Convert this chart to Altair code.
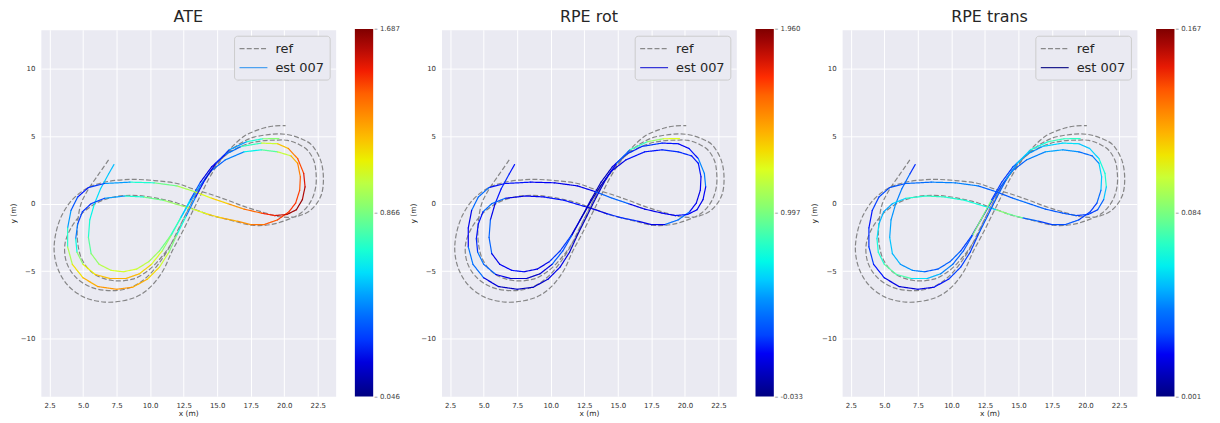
import altair as alt
import pandas as pd

# ---------------- data ----------------
PANEL_TITLES = ["ATE", "RPE rot", "RPE trans"]
CBAR_MIN = [0.046, -0.033, 0.001]
CBAR_MAX = [1.687, 1.960, 0.167]
CBAR_LABELS = [["0.046", "0.866", "1.687"],
               ["-0.033", "0.997", "1.960"],
               ["0.001", "0.084", "0.167"]]
EST_LEGEND_COLOR = ["#3d9bf0", "#2323d6", "#0c0c86"]
SERIES = ["ref", "est 007"]
X_TICKS = [2.5, 5.0, 7.5, 10.0, 12.5, 15.0, 17.5, 20.0, 22.5]
Y_TICKS = [-10, -5, 0, 5, 10]

REF_X = [6.9, 6.1, 5.35, 4.85, 4.6, 4.6, 4.95, 5.8, 7.2, 8.7, 9.8, 10.9, 11.8, 12.5, 13.2, 13.95,
         14.8, 15.9, 17.3, 18.3, 19.3, 20.25, 21.1, 21.75, 22.2, 22.35, 22.35, 21.98, 21.24, 20.25,
         19.0, 17.6, 16.0, 14.5, 13.0, 12.0, 11.0, 10.0, 8.7, 7.3, 6.0, 4.9,
         4.1, 3.65, 3.75, 4.4, 5.6, 7.2, 8.6, 9.7, 10.6, 11.4, 12.1, 12.8, 13.55, 14.4, 15.4, 16.6,
         17.6, 18.6, 19.6, 20.4, 21.3, 22.0, 22.7, 22.92, 22.72, 22.0, 21.0, 19.75, 18.3, 17.0,
         15.8, 14.5, 13.2, 12.0, 10.3, 8.5, 6.6, 5.3, 4.2,
         3.4, 2.95, 2.85, 3.15, 3.9, 5.1, 6.6, 8.0, 9.2, 10.2, 11.0, 11.6, 12.35, 13.05, 13.7,
         14.35, 15.1, 16.0, 17.0, 18.1, 19.1, 20.1]
REF_Y = [3.25, 2.1, 1.0, 0.0, -1.4, -2.9, -4.2, -5.2, -5.7, -5.6, -5.0, -3.9, -2.6, -1.1, 0.3, 1.6,
         2.8, 3.8, 4.45, 4.66, 4.72, 4.7, 4.4, 3.95, 3.2, 2.5, 1.27, 0.17, -0.69, -1.18,
         -1.55, -1.6, -1.22, -0.85, -0.3, 0.05, 0.3, 0.5, 0.62, 0.5, 0.05, -0.75,
         -1.8, -3.0, -4.3, -5.4, -6.2, -6.45, -6.2, -5.5, -4.5, -3.3, -1.9, -0.5, 0.9, 2.2, 3.4, 4.4,
         4.9, 5.1, 5.18, 5.1, 4.8, 4.4, 3.25, 1.8, 0.55, -0.45, -0.93, -0.98, -0.6, -0.2,
         0.25, 0.7, 1.1, 1.5, 1.72, 1.8, 1.6, 1.15, 0.3,
         -0.9, -2.3, -3.6, -4.9, -6.1, -6.95, -7.3, -7.2, -6.8, -6.0, -4.9, -3.6, -2.2, -0.8, 0.5,
         1.8, 3.0, 4.1, 5.0, 5.5, 5.75, 5.8]

EST_X = [7.3, 6.9, 6.3, 5.85, 5.5, 5.4, 5.6, 6.2, 7.1, 8.0,
         9.0, 9.9, 10.7, 11.5, 12.2, 12.95, 13.7, 14.5, 15.6, 17.0,
         18.3, 19.5, 20.5, 21.0, 21.2, 21.15, 20.85, 20.35, 19.5, 18.5,
         17.5, 16.5, 15.3, 14.2, 13.3, 12.5, 11.0, 9.5, 8.1, 6.6,
         5.6, 4.95, 4.6, 4.45, 4.55, 5.0, 5.9, 7.0, 8.2, 9.2,
         10.1, 10.9, 11.6, 12.3, 13.0, 13.75, 14.6, 15.6, 16.8, 18.3,
         19.5, 20.3, 21.0, 21.45, 21.55, 21.35, 20.9, 20.2, 19.3, 18.3,
         17.0, 15.8, 14.55, 13.3, 12.0, 10.3, 8.5, 6.6, 5.4, 4.6,
         4.1, 3.85, 3.85, 4.2, 5.0, 6.1, 7.5, 8.7, 9.8, 10.7,
         11.4, 12.0, 12.7, 13.4, 14.1, 14.9, 15.9, 17.2, 18.4, 19.6]
EST_Y = [2.9, 2.2, 1.1, 0.0, -1.2, -2.5, -3.7, -4.5, -4.95, -5.05,
         -4.85, -4.3, -3.5, -2.4, -1.2, 0.1, 1.3, 2.4, 3.25, 3.85,
         4.0, 3.85, 3.55, 3.0, 2.0, 1.0, 0.05, -0.6, -1.2, -1.55,
         -1.55, -1.3, -1.05, -0.75, -0.44, -0.2, 0.25, 0.5, 0.57, 0.4,
         0.0, -0.6, -1.5, -2.6, -3.6, -4.5, -5.25, -5.55, -5.55, -5.2,
         -4.5, -3.5, -2.3, -1.0, 0.3, 1.6, 2.75, 3.65, 4.25, 4.5,
         4.45, 4.1, 3.35, 2.25, 1.25, 0.3, -0.45, -0.8, -0.88, -0.7,
         -0.4, 0.0, 0.42, 0.9, 1.32, 1.55, 1.6, 1.5, 1.2, 0.5,
         -0.5, -1.8, -3.2, -4.5, -5.5, -6.15, -6.35, -6.2, -5.6, -4.7,
         -3.6, -2.3, -0.9, 0.5, 1.8, 3.0, 4.0, 4.6, 4.82, 4.83]

ATE_ERR = [0.54, 0.55, 0.58, 0.62, 0.67, 0.74, 0.87, 0.95, 1.03, 1.06,
           1.03, 0.98, 0.90, 0.78, 0.67, 0.54, 0.46, 0.40, 0.37, 0.54,
           0.74, 0.87, 1.16, 1.28, 1.39, 1.44, 1.47, 1.47, 1.44, 1.39,
           1.33, 1.26, 1.20, 1.11, 1.03, 0.95, 0.90, 0.78, 0.62, 0.37,
           0.29, 0.29, 0.34, 0.54, 0.78, 1.03, 1.16, 1.23, 1.23, 1.20,
           1.11, 1.00, 0.83, 0.67, 0.46, 0.24, 0.18, 0.29, 0.54, 0.95,
           1.11, 1.28, 1.39, 1.49, 1.57, 1.64, 1.66, 1.61, 1.52, 1.44,
           1.33, 1.23, 1.11, 1.03, 0.90, 0.78, 0.62, 0.37, 0.24, 0.29,
           0.41, 0.57, 0.87, 1.06, 1.20, 1.26, 1.29, 1.26, 1.20, 1.10,
           0.96, 0.78, 0.57, 0.34, 0.18, 0.21, 0.37, 0.62, 0.78, 1.00]
RPE_ROT_ERR = [0.25, 0.2, 0.3, 0.15, 0.2, 0.55, 0.2, 0.15, 0.25, 0.2,
               0.15, 0.2, 0.35, 0.2, 0.08, 0.1, 0.05, 0.12, 0.2, 0.25,
               0.2, 0.3, 0.2, 0.25, 0.2, 0.2, 0.15, 0.25, 0.6, 0.2,
               0.15, 0.2, 0.3, 0.2, 0.15, 0.2, 0.25, 0.2, 0.2, 0.15,
               0.6, 0.2, 0.25, 0.2, 0.3, 0.55, 0.2, 0.15, 0.1, 0.12,
               0.2, 0.5, 0.15, 0.08, 0.1, 0.06, 0.12, 0.2, 0.3, 0.25,
               0.2, 0.2, 0.25, 0.7, 0.2, 0.2, 0.15, 0.25, 0.2, 0.2,
               0.15, 0.2, 0.55, 0.2, 0.15, 0.2, 0.2, 0.25, 0.2, 0.6,
               0.2, 0.15, 0.25, 0.6, 0.2, 0.1, 0.08, 0.1, 0.15, 0.2,
               0.12, 0.1, 0.08, 0.12, 0.15, 0.25, 0.5, 1.15, 0.9, 1.5]
RPE_TRANS_ERR = [0.02, 0.03, 0.045, 0.04, 0.05, 0.045, 0.06, 0.04, 0.05, 0.035,
                 0.03, 0.04, 0.03, 0.025, 0.02, 0.025, 0.035, 0.03, 0.04, 0.045,
                 0.05, 0.04, 0.035, 0.05, 0.06, 0.045, 0.03, 0.025, 0.03, 0.035,
                 0.025, 0.03, 0.04, 0.12, 0.05, 0.06, 0.07, 0.065, 0.075, 0.06,
                 0.05, 0.045, 0.055, 0.06, 0.07, 0.065, 0.09, 0.06, 0.055, 0.045,
                 0.04, 0.03, 0.035, 0.14, 0.03, 0.025, 0.03, 0.04, 0.05, 0.06,
                 0.055, 0.05, 0.06, 0.07, 0.065, 0.04, 0.03, 0.025, 0.03, 0.035,
                 0.03, 0.04, 0.035, 0.03, 0.04, 0.045, 0.04, 0.035, 0.03, 0.03,
                 0.025, 0.02, 0.03, 0.025, 0.02, 0.015, 0.015, 0.02, 0.025, 0.03,
                 0.025, 0.03, 0.035, 0.03, 0.04, 0.05, 0.06, 0.07, 0.075, 0.065]
ERRORS = [ATE_ERR, RPE_ROT_ERR, RPE_TRANS_ERR]

# ---------------- style ----------------
JET = ["#000080", "#0000ff", "#0080ff", "#15ffe2", "#7bff7b", "#e2ff15", "#ff9700", "#ff2100", "#800000"]
FONT = "DejaVu Sans"
X_DOMAIN = [1.854, 23.83]
Y_DOMAIN = [-14.29, 12.91]
PLOT_W, PLOT_H = 296, 368

ref_df = pd.DataFrame({"x": REF_X, "y": REF_Y, "i": list(range(len(REF_X))), "series": "ref"})


def seg_df(err):
    n = len(EST_X)
    return pd.DataFrame({
        "x": EST_X[:-1], "y": EST_Y[:-1], "x2": EST_X[1:], "y2": EST_Y[1:],
        "err": [(err[i] + err[i + 1]) / 2 for i in range(n - 1)],
        "series": "est 007",
    })


def panel(k):
    lo, hi = CBAR_MIN[k], CBAR_MAX[k]
    span = hi - lo
    mid = (lo + hi) / 2
    dom = [lo + span * j / 8 for j in range(len(JET))]
    labs = CBAR_LABELS[k]
    t1, t2 = (lo + mid) / 2, (mid + hi) / 2
    label_expr = ("'\u2013 ' + (datum.value < %r ? '%s' : datum.value < %r ? '%s' : '%s')"
                  % (t1, labs[0], t2, labs[1], labs[2]))
    xs = alt.Scale(domain=X_DOMAIN, nice=False, zero=False)
    ys = alt.Scale(domain=Y_DOMAIN, nice=False, zero=False)
    x_axis = alt.Axis(values=X_TICKS, format=".1f", title="x (m)", labelPadding=5.5,
                      titlePadding=1, labelFlush=False, labelOverlap=False, labelSeparation=0,
                      tickCount=len(X_TICKS))
    y_axis = alt.Axis(values=Y_TICKS, format="d", title="y (m)", labelPadding=6,
                      titlePadding=3, labelFlush=False, labelOverlap=False)
    dash = alt.StrokeDash(
        "series:N",
        scale=alt.Scale(domain=SERIES, range=[[5, 2.2], [1, 0]]),
        legend=alt.Legend(
            title=None, orient="top-right", offset=6,
            symbolType="M-2,0H2", symbolSize=196, symbolStrokeWidth=1.2,
            symbolStrokeColor={"expr": "datum.value === 'ref' ? '#7f7f7f' : '%s'" % EST_LEGEND_COLOR[k]},
            symbolOffset=6.5, labelOffset=14, labelFontSize=13, labelFont=FONT,
            labelColor="#262626", fillColor="#eaeaf2", strokeColor="#cccccc",
            cornerRadius=3, padding=5, rowPadding=4,
        ),
    )
    ref = alt.Chart(ref_df).mark_line(
        color="#7a7a7a", strokeWidth=1.2, interpolate="catmull-rom", opacity=0.9
    ).encode(
        x=alt.X("x:Q", scale=xs, axis=x_axis),
        y=alt.Y("y:Q", scale=ys, axis=y_axis),
        order="i:Q",
        strokeDash=dash,
    )
    est = alt.Chart(seg_df(ERRORS[k])).mark_rule(strokeWidth=1.2, strokeCap="round").encode(
        x=alt.X("x:Q", scale=xs, axis=x_axis),
        y=alt.Y("y:Q", scale=ys, axis=y_axis),
        x2="x2:Q", y2="y2:Q",
        color=alt.Color(
            "err:Q",
            scale=alt.Scale(domain=dom, range=JET, clamp=True),
            legend=alt.Legend(
                title=None, orient="none", legendX=315.3, legendY=-0.7, direction="vertical",
                type="gradient", gradientLength=369, gradientThickness=18.4, gradientStrokeWidth=0,
                values=[lo + span * 1e-6, mid, hi - span * 1e-6], labelExpr=label_expr,
                labelFontSize=7, labelFont=FONT, labelColor="#444444", labelOffset=1,
                labelOverlap=False, padding=0,
            ),
        ),
        strokeDash=dash,
    )
    return alt.layer(ref, est).properties(
        width=PLOT_W, height=PLOT_H,
        title=alt.TitleParams(PANEL_TITLES[k], fontSize=16, font=FONT, fontWeight="normal",
                              color="#262626", offset=4, anchor="middle", frame="group"),
    )


chart = alt.hconcat(panel(0), panel(1), panel(2), spacing=106.3, bounds="flush").resolve_scale(
    x="independent", y="independent", color="independent", strokeDash="independent"
).resolve_legend(color="independent", strokeDash="independent").configure(
    padding={"left": 1, "top": 0, "right": 10, "bottom": 2}, font=FONT, background="white"
).configure_view(fill="#eaeaf2", strokeOpacity=0).configure_axis(
    grid=True, gridColor="white", gridWidth=1, domain=False, ticks=False,
    labelFontSize=7, labelColor="#333333", labelFont=FONT, labelOverlap=False,
    titleFontSize=7.5, titleColor="#262626", titleFont=FONT, titleFontWeight="normal",
)

chart.save("out.html", embed_options={"renderer": "svg", "actions": False})
